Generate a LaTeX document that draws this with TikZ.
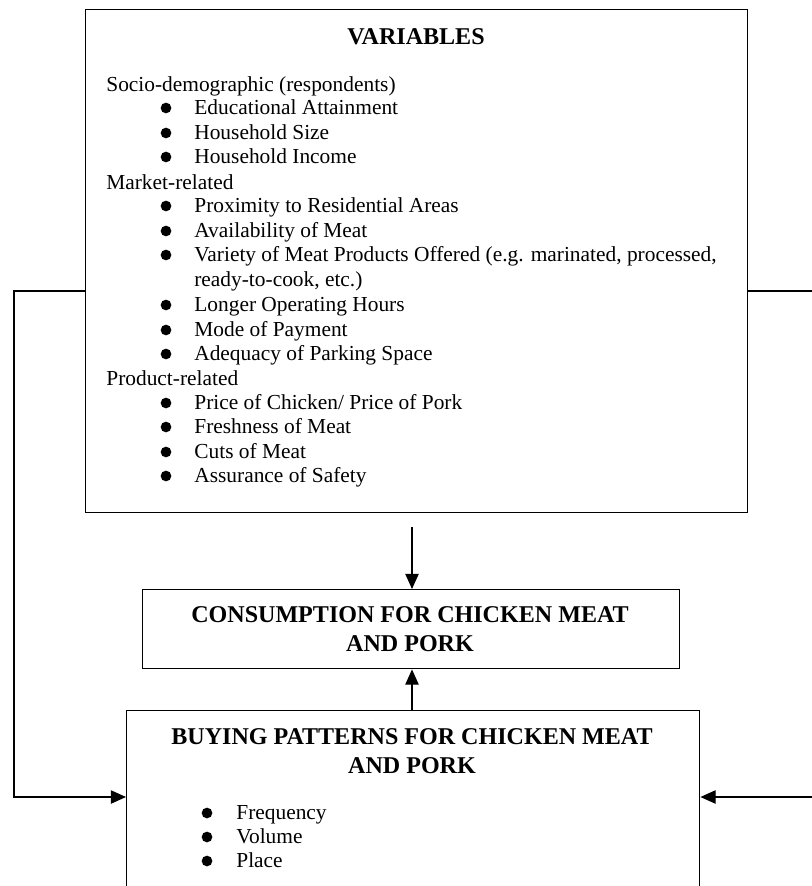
\documentclass[tikz,border=0pt]{standalone}
\usepackage{fontspec}
\setmainfont{Liberation Serif}
\usetikzlibrary{arrows.meta}
\begin{document}
\begin{tikzpicture}[x=0.561pt,y=-0.561pt,
  box/.style={draw, line width=0.8pt, inner sep=0, anchor=north west},
  txt/.style={anchor=mid west, inner sep=0, font=\fontsize{12}{13.8}\selectfont},
  headtxt/.style={anchor=center, inner sep=0, align=center, font=\fontsize{13.5}{16.3}\selectfont\bfseries},
  bul/.style={circle, fill, inner sep=0, minimum size=6pt},
  conn/.style={line width=0.6pt, -{Triangle[length=8.5pt,width=7.5pt]}}]
\useasboundingbox (0,0) rectangle (812,886);
\clip (0,0) rectangle (812,886);

% boxes
\node[box, minimum width={662*0.561pt}, minimum height={503*0.561pt}] (vars) at (85,9) {};
\node[box, minimum width={537*0.561pt}, minimum height={79*0.561pt}] (cons) at (142,589) {};
\node[box, minimum width={573*0.561pt}, minimum height={200*0.561pt}] (buy) at (126,710) {};

% headings
\node[headtxt] (hvars) at (416,37) {VARIABLES};
\node[headtxt] (hcons) at (410,629) {CONSUMPTION FOR CHICKEN MEAT\\AND PORK};
\node[headtxt] (hbuy) at (412,751) {BUYING PATTERNS FOR CHICKEN MEAT\\AND PORK};

% group labels
\node[txt] (g1) at (106,87) {Socio-demographic (respondents)};
\node[txt] (g2) at (106,185) {Market-related};
\node[txt] (g3) at (106,381) {Product-related};

% bulleted items
\foreach \y/\t [count=\i] in {
  109/{Educational Attainment},
  134/{Household Size},
  158/{Household Income},
  207/{Proximity to Residential Areas},
  232/{Availability of Meat},
  256/{Variety of Meat Products Offered (e.g. marinated, processed,},
  306/{Longer Operating Hours},
  331/{Mode of Payment},
  355/{Adequacy of Parking Space},
  404/{Price of Chicken/ Price of Pork},
  428/{Freshness of Meat},
  453/{Cuts of Meat},
  477/{Assurance of Safety}}{
  \node[bul] (b\i) at (166,\y-1) {};
  \node[txt] (t\i) at (194,\y+1.5) {\t};
}
\node[txt] (t6b) at (194,282.5) {ready-to-cook, etc.)};

\foreach \y/\t [count=\i] in {814/{Frequency}, 838/{Volume}, 862/{Place}}{
  \node[bul] (pb\i) at (207,\y-1) {};
  \node[txt] (pt\i) at (236,\y+1.5) {\t};
}

% connectors
\coordinate (l1) at (14,291);
\coordinate (l2) at (14,797);
\coordinate (r1) at (830,291);
\coordinate (r2) at (830,797);
\draw[conn] (vars.west |- l1) -- (l1) -- (l2) -- (buy.west |- l2);
\draw[conn] (vars.east |- r1) -- (r1) -- (r2) -- (buy.east |- r2);
\coordinate (d1) at (412,527);
\draw[conn] (d1) -- (cons.north -| d1);
\draw[conn] (buy.north -| d1) -- (cons.south -| d1);
\end{tikzpicture}
\end{document}
